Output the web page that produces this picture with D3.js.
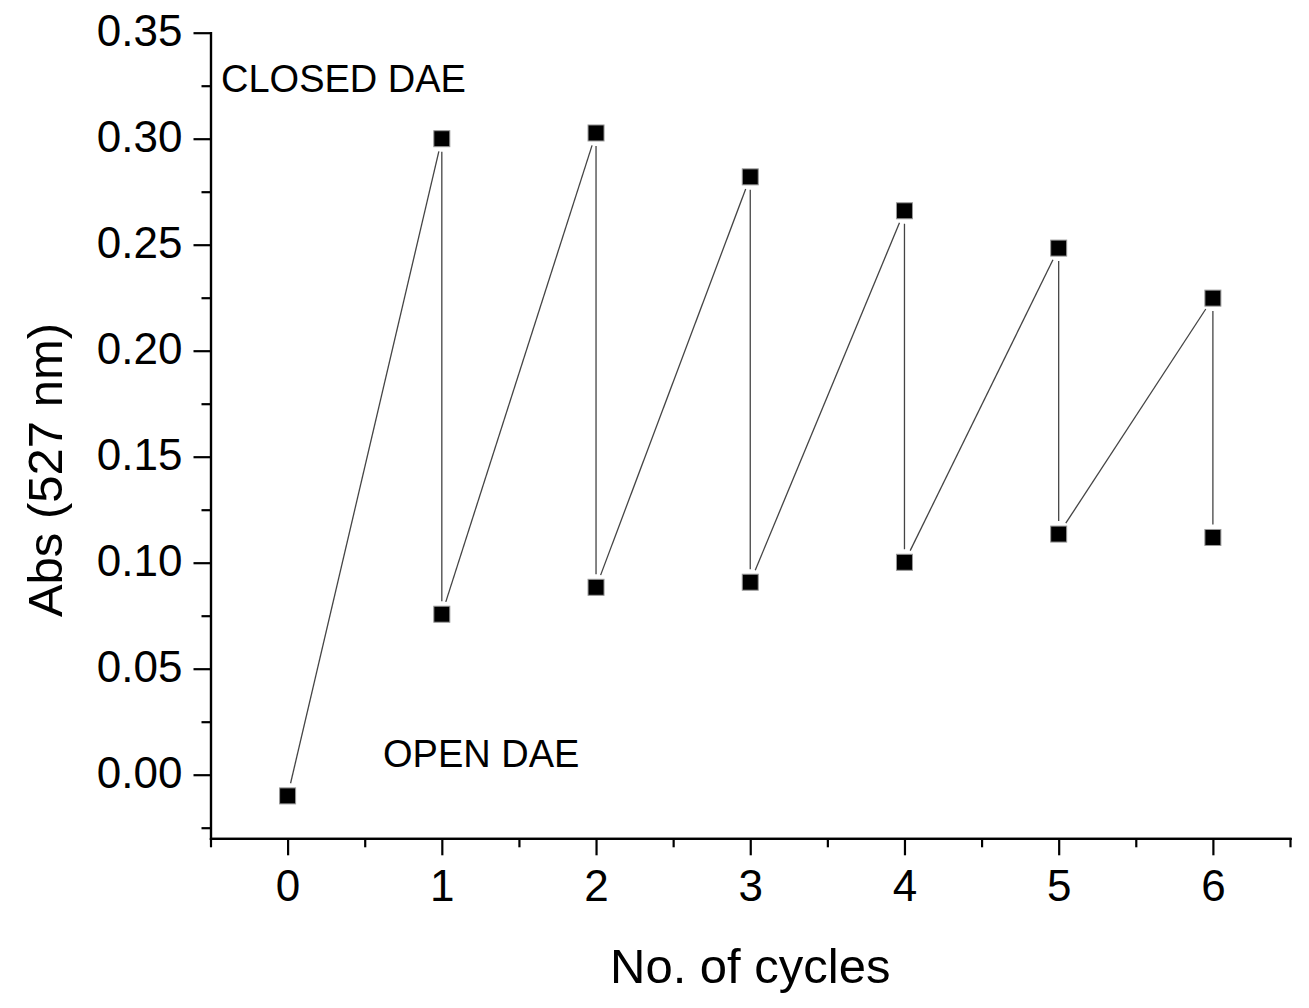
<!DOCTYPE html>
<html>
<head>
<meta charset="utf-8">
<script src="https://cdn.jsdelivr.net/npm/d3@7"></script>
<style>
  body { margin: 0; background: #fff; }
  text { font-family: "Liberation Sans", Arial, sans-serif; fill: #000; }
</style>
</head>
<body>
<div id="chart"></div>
<script>
// data
const cycles = [0, 1, 1, 2, 2, 3, 3, 4, 4, 5, 5, 6, 6];
const absorbance = [-0.010, 0.300, 0.0757, 0.3027, 0.0884, 0.282, 0.0908, 0.266, 0.1002, 0.2484, 0.1135, 0.2248, 0.1119];
const xTicks = [0, 1, 2, 3, 4, 5, 6];
const yTicks = [0.00, 0.05, 0.10, 0.15, 0.20, 0.25, 0.30, 0.35];

const width = 1309, height = 1008;
const svg = d3.select("#chart").append("svg")
  .attr("width", width)
  .attr("height", height);

// scales
const x = d3.scaleLinear().domain([-0.5, 6.5]).range([210.5, 1290]);
const y = d3.scaleLinear().domain([-0.03, 0.35]).range([838.3, 32.7]);

const points = cycles.map((c, i) => ({ c, v: absorbance[i] }));

// connecting line with small gaps at the symbols
const gap = 13;
const segs = [];
for (let i = 0; i < points.length - 1; i++) {
  const x1 = x(points[i].c), y1 = y(points[i].v);
  const x2 = x(points[i + 1].c), y2 = y(points[i + 1].v);
  const len = Math.hypot(x2 - x1, y2 - y1);
  const ux = (x2 - x1) / len, uy = (y2 - y1) / len;
  segs.push([x1 + ux * gap, y1 + uy * gap, x2 - ux * gap, y2 - uy * gap]);
}
svg.append("g").selectAll("line")
  .data(segs)
  .enter()
  .append("line")
  .attr("x1", d => d[0]).attr("y1", d => d[1])
  .attr("x2", d => d[2]).attr("y2", d => d[3])
  .attr("stroke", "#444")
  .attr("stroke-width", 1.3);

// symbols
const sz = 16;
svg.append("g").selectAll("rect")
  .data(points)
  .enter()
  .append("rect")
  .attr("x", d => x(d.c) - sz / 2)
  .attr("y", d => y(d.v) - sz / 2)
  .attr("width", sz)
  .attr("height", sz)
  .attr("fill", "#000")
  .attr("stroke", "#999")
  .attr("stroke-width", 1);

// axes: minor ticks in their own group, then major ticks with labels
const xMinor = svg.append("g").attr("transform", `translate(0,${y(-0.03)})`)
  .call(d3.axisBottom(x).tickValues(d3.range(-0.5, 6.51, 1)).tickSize(9).tickSizeOuter(0).tickFormat(""));
const xAxis = svg.append("g").attr("transform", `translate(0,${y(-0.03)})`)
  .call(d3.axisBottom(x).tickValues(xTicks).tickSize(17).tickSizeOuter(0).tickFormat(d3.format("d")));
xAxis.selectAll("text")
  .attr("font-size", 44)
  .attr("y", 63)
  .attr("dy", 0)
  .style("font-family", "Liberation Sans, Arial, sans-serif");

const yMinor = svg.append("g").attr("transform", `translate(${x(-0.5)},0)`)
  .call(d3.axisLeft(y).tickValues(d3.range(-0.025, 0.351, 0.05)).tickSize(9).tickSizeOuter(0).tickFormat(""));
const yAxis = svg.append("g").attr("transform", `translate(${x(-0.5)},0)`)
  .call(d3.axisLeft(y).tickValues(yTicks).tickSize(17).tickSizeOuter(0).tickFormat(d3.format(".2f")));
yAxis.selectAll("text")
  .attr("font-size", 44)
  .attr("x", -28)
  .attr("dy", 13)
  .style("font-family", "Liberation Sans, Arial, sans-serif");

[xMinor, xAxis, yMinor, yAxis].forEach(g => {
  g.selectAll("path, line").attr("stroke", "#000").attr("stroke-width", 2.2);
  g.select(".domain").attr("stroke-linecap", "square");
});

// axis titles
svg.append("text")
  .attr("x", (x(-0.5) + x(6.5)) / 2)
  .attr("y", 983)
  .attr("text-anchor", "middle")
  .attr("font-size", 49)
  .text("No. of cycles");

svg.append("text")
  .attr("transform", "translate(62,470) rotate(-90)")
  .attr("text-anchor", "middle")
  .attr("font-size", 49)
  .text("Abs (527 nm)");

// annotations
svg.append("text")
  .attr("x", 221)
  .attr("y", 91.5)
  .attr("font-size", 38)
  .text("CLOSED DAE");

svg.append("text")
  .attr("x", 383)
  .attr("y", 767)
  .attr("font-size", 38)
  .text("OPEN DAE");
</script>
</body>
</html>
